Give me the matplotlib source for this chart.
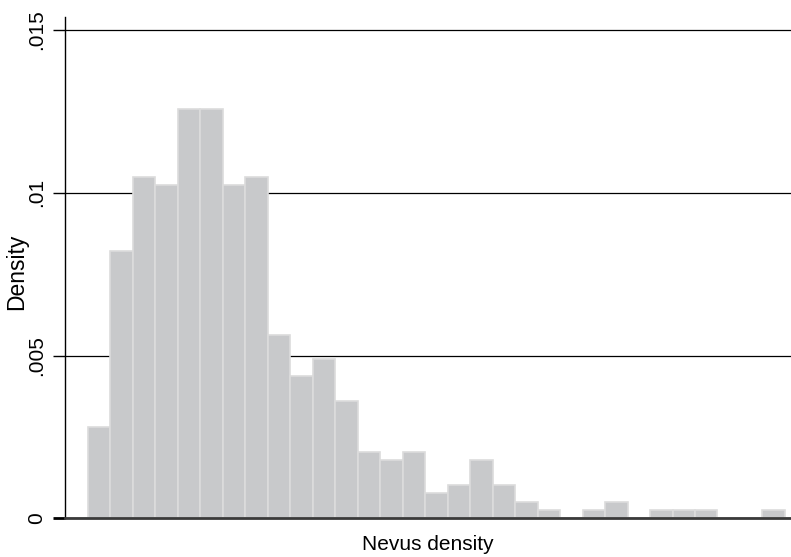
import matplotlib
matplotlib.use("Agg")
import matplotlib.pyplot as plt
import numpy as np

plt.rcParams['font.family'] = ['Liberation Sans', 'DejaVu Sans']

# bin index (left edges) and density heights
bin_left = list(range(31))
density = [0.00282, 0.00820, 0.01050, 0.01025, 0.01256, 0.01256, 0.01025, 0.01050,
           0.00564, 0.00436, 0.00488, 0.00359, 0.00205, 0.00180, 0.00205, 0.00077,
           0.00103, 0.00180, 0.00103, 0.00051, 0.00026, 0.0, 0.00026, 0.00051,
           0.0, 0.00026, 0.00026, 0.00026, 0.0, 0.0, 0.00026]
yticks = [0, 0.005, 0.01, 0.015]
ytick_labels = ["0", ".005", ".01", ".015"]

fig = plt.figure(figsize=(7.91, 5.57), dpi=100)
ax = fig.add_axes([65/791, 38.7/557, 1 - 65/791, (518.3 - 17) / 557])

ax.bar(bin_left, density, width=1.0, align='edge', color='#c8c9cb',
       edgecolor='#dcdcdc', linewidth=1.2, zorder=3)

ax.set_xlim(-1.02, 31.27)
ax.set_ylim(0, 0.0154)
ax.set_yticks(yticks)
ax.set_yticklabels(ytick_labels, rotation=90, va='center', fontsize=15)
ax.set_xticks([])
ax.grid(axis='y', color='black', linewidth=0.9, zorder=0)
ax.set_axisbelow(True)

for s in ['top', 'right']:
    ax.spines[s].set_visible(False)
ax.spines['left'].set_linewidth(1.0)
ax.spines['left'].set_color('black')
ax.spines['bottom'].set_linewidth(2.0)
ax.spines['bottom'].set_color('#3a3a3a')
ax.spines['bottom'].set_zorder(4)
ax.tick_params(axis='y', length=9, width=1.0, pad=4.5)
t0 = ax.yaxis.get_major_ticks()[0]
t0.tick1line.set_markeredgewidth(2.0)
t0.tick1line.set_color('#3a3a3a')

fig.text(17/791, 1 - 272/557, "Density", rotation=90, ha='center', va='center',
         fontsize=16.5)
ax.set_xlabel("Nevus density", fontsize=15, labelpad=12)

fig.savefig("out.png", dpi=100)
